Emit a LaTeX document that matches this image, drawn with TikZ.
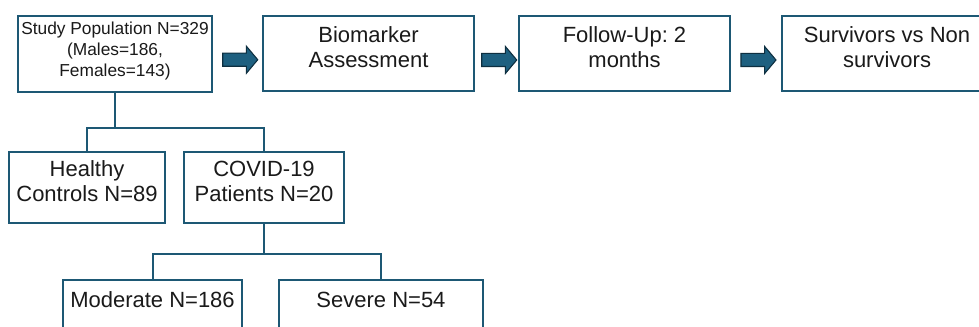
\documentclass[tikz,border=0pt]{standalone}
\usepackage{fontspec}
\setmainfont{Liberation Sans}
\usetikzlibrary{shapes, arrows.meta, positioning, calc}
\frenchspacing

\definecolor{boxblue}{HTML}{1D5874}
\definecolor{arrowfill}{HTML}{1E6080}
\definecolor{arrowedge}{HTML}{0E2F40}
\definecolor{inkgray}{HTML}{1A1A1A}

% text set at the top of a box of fixed size
\newcommand{\boxtext}[4][8pt]{\parbox[c][#3][t]{#2}{\centering\vspace*{#1}#4}}

\begin{document}
\begin{tikzpicture}[x=0.75pt,y=-0.75pt,
        box/.style={draw=boxblue,line width=1.5pt,fill=white,inner sep=0pt,
          text=inkgray,font=\fontsize{16.5}{18.75}\selectfont},
        blockarrow/.style={single arrow,draw=arrowedge,fill=arrowfill,line width=0.8pt,
          inner sep=4.5pt,minimum height=26.25pt,single arrow head extend=5.25pt,
          single arrow tip angle=100},
        link/.style={draw=boxblue,line width=1.5pt}]
      \useasboundingbox (0,0) rectangle (979,327);
      \clip (0,0) rectangle (979,327);
      % top row
      \node[box,font=\fontsize{13}{15.75}\selectfont] (study) at (115,54)
        {\boxtext[4.3pt]{145.5pt}{57pt}{Study Population N=329\\(Males=186,\\Females=143)}};
      \node[box] (bio) at (368.5,53.5) {\boxtext{158.25pt}{56.25pt}{Biomarker\\Assessment}};
      \node[box] (follow) at (624.5,53.5) {\boxtext{158.25pt}{56.25pt}{Follow-Up: 2\\months}};
      \node[box] (surv) at (887,53.5) {\boxtext{158.25pt}{56.25pt}{Survivors vs Non\\survivors}};
      \node[blockarrow] (arrA) at ($(study.east)!.5!(bio.west)+(0,6)$) {};
      \node[blockarrow] (arrB) at ($(bio.east)!.5!(follow.west)+(0,6.5)$) {};
      \node[blockarrow] (arrC) at ($(follow.east)!.5!(surv.west)+(0,6.5)$) {};
      % groups
      \node[box] (healthy) at (87,187.5) {\boxtext[6.75pt]{117pt}{53.25pt}{Healthy\\Controls N=89}};
      \node[box] (covid) at (264,187.5) {\boxtext[6.75pt]{120pt}{53.25pt}{COVID-19\\Patients N=20}};
      \node[box] (moderate) at (152.5,315.5) {\boxtext[9pt]{134.25pt}{53.25pt}{Moderate N=186}};
      \node[box] (severe) at (381,315.5) {\boxtext[9pt]{153pt}{53.25pt}{Severe N=54}};
      \draw[link] (study.south) -- ++(0,35) -| (healthy.north);
      \draw[link] (study.south) -- ++(0,35) -| (covid.north);
      \draw[link] (covid.south) -- ++(0,30) -| (moderate.north);
      \draw[link] (covid.south) -- ++(0,30) -| (severe.north);
    \end{tikzpicture}
\end{document}
